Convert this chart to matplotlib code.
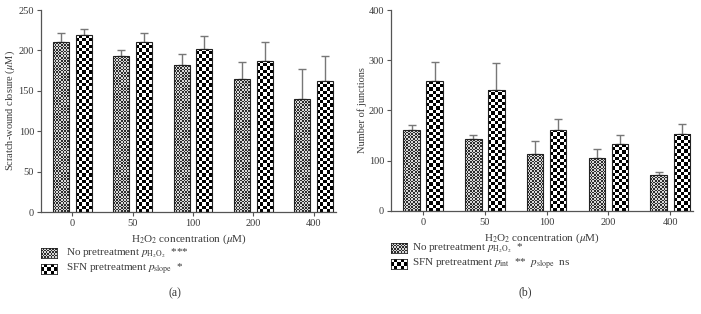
import matplotlib

matplotlib.use("Agg")

import matplotlib.pyplot as plt
import numpy as np

plt.rcParams["font.family"] = ["Liberation Serif", "DejaVu Serif"]
plt.rcParams["mathtext.fontset"] = "stix"

# ---- data -------------------------------------------------------------
concentrations = ["0", "50", "100", "200", "400"]

wound_no_mean = [211, 193, 182, 165, 140]
wound_no_err = [10, 8, 14, 21, 37]
wound_sfn_mean = [219, 210, 202, 187, 162]
wound_sfn_err = [8, 11, 16, 24, 31]

junc_no_mean = [161, 143, 113, 105, 71]
junc_no_err = [10, 8, 26, 18, 6]
junc_sfn_mean = [258, 241, 162, 133, 154]
junc_sfn_err = [39, 54, 21, 18, 20]

# ---- style ------------------------------------------------------------
W, H, DPI = 701, 314, 100
AXIS = "#555555"
TEXT = "#3a3a3a"
ERR = "#777777"
BAR_W = 0.265
OFFSET = 0.187
XLIM = (-0.52, 4.37)


def checker(ny, nx, light, dark):
    grid = (np.add.outer(np.arange(ny), np.arange(nx)) % 2).astype(float)
    img = np.empty((ny, nx, 3))
    img[grid == 0] = light
    img[grid == 1] = dark
    return img


FINE = (np.array([0.85, 0.85, 0.85]), np.array([0.18, 0.18, 0.18]), 1.6)
COARSE = (np.array([1.0, 1.0, 1.0]), np.array([0.0, 0.0, 0.0]), 3.2)


def textured_bars(ax, xs, heights, pattern, ymax, ax_px):
    light, dark, cell = pattern
    px_per_x = ax_px[0] / (XLIM[1] - XLIM[0])
    px_per_y = ax_px[1] / ymax
    bars = ax.bar(xs, heights, width=BAR_W, facecolor="none",
                  edgecolor="#222222", linewidth=0.8, zorder=3)
    for bar in bars:
        x0 = bar.get_x()
        h = bar.get_height()
        nx = max(1, int(round(BAR_W * px_per_x / cell)))
        ny = max(1, int(round(h * px_per_y / cell)))
        im = ax.imshow(checker(ny, nx, light, dark), extent=(x0, x0 + BAR_W, 0, h),
                       origin="lower", interpolation="nearest", aspect="auto", zorder=2)
        im.set_clip_path(bar)
    return bars


def panel(fig, rect, no_mean, no_err, sfn_mean, sfn_err, ymax, ystep, ylabel):
    ax = fig.add_axes(rect)
    ax_px = (rect[2] * W, rect[3] * H)
    x = np.arange(len(concentrations))
    textured_bars(ax, x - OFFSET, no_mean, FINE, ymax, ax_px)
    textured_bars(ax, x + OFFSET, sfn_mean, COARSE, ymax, ax_px)
    ax.errorbar(x - OFFSET, no_mean, yerr=[np.zeros(len(x)), no_err], fmt="none",
                ecolor=ERR, elinewidth=1.0, capsize=3.2, capthick=1.0, zorder=1)
    ax.errorbar(x + OFFSET, sfn_mean, yerr=[np.zeros(len(x)), sfn_err], fmt="none",
                ecolor=ERR, elinewidth=1.0, capsize=3.2, capthick=1.0, zorder=1)
    ax.set_xlim(*XLIM)
    ax.set_ylim(0, ymax)
    ax.set_xticks(x)
    ax.set_xticklabels(concentrations)
    ax.set_yticks(np.arange(0, ymax + 1, ystep))
    ax.spines[["top", "right"]].set_visible(False)
    for side in ("left", "bottom"):
        ax.spines[side].set_color(AXIS)
        ax.spines[side].set_linewidth(0.9)
    ax.tick_params(axis="both", colors=AXIS, labelcolor=TEXT, labelsize=7.5,
                   length=3, width=0.8, pad=2)
    ax.set_ylabel(ylabel, fontsize=7.5, color=TEXT, labelpad=1)
    ax.set_xlabel(r"H$_2$O$_2$ concentration ($\mu$M)", fontsize=8, color=TEXT, labelpad=3)
    return ax


def swatch(fig, x, y, pattern):
    light, dark, cell = pattern
    sw = fig.add_axes([x / W, 1 - (y + 5) / H, 16 / W, 10 / H])
    ny, nx = max(1, int(round(10 / cell))), max(1, int(round(16 / cell)))
    sw.imshow(checker(ny, nx, light, dark), interpolation="nearest", aspect="auto")
    sw.set_xticks([])
    sw.set_yticks([])
    for s in sw.spines.values():
        s.set_color("#222222")
        s.set_linewidth(0.6)


fig = plt.figure(figsize=(W / DPI, H / DPI), dpi=DPI, facecolor="white")

panel(fig, [41 / W, 102 / H, 295 / W, 202 / H],
      wound_no_mean, wound_no_err, wound_sfn_mean, wound_sfn_err,
      250, 50, r"Scratch-wound closure ($\mu$M)")
panel(fig, [391 / W, 103 / H, 302 / W, 201 / H],
      junc_no_mean, junc_no_err, junc_sfn_mean, junc_sfn_err,
      400, 100, "Number of junctions")

# legends
swatch(fig, 41, 253, FINE)
swatch(fig, 41, 269, COARSE)
fig.text(66 / W, 1 - 253 / H, r"No pretreatment $p_{\mathrm{H_2O_2}}$  ***",
         fontsize=8, color=TEXT, va="center")
fig.text(66 / W, 1 - 269 / H, r"SFN pretreatment $p_{\mathrm{slope}}$  *",
         fontsize=8, color=TEXT, va="center")

swatch(fig, 391, 248, FINE)
swatch(fig, 391, 264, COARSE)
fig.text(412 / W, 1 - 248 / H, r"No pretreatment $p_{\mathrm{H_2O_2}}$  *",
         fontsize=8, color=TEXT, va="center")
fig.text(412 / W, 1 - 264 / H,
         r"SFN pretreatment $p_{\mathrm{int}}$  **  $p_{\mathrm{slope}}$  ns",
         fontsize=8, color=TEXT, va="center")

fig.text(175 / W, 1 - 293 / H, "(a)", fontsize=8.5, color=TEXT, ha="center", va="center")
fig.text(525 / W, 1 - 292 / H, "(b)", fontsize=8.5, color=TEXT, ha="center", va="center")

fig.savefig("out.png", dpi=DPI, facecolor="white")
